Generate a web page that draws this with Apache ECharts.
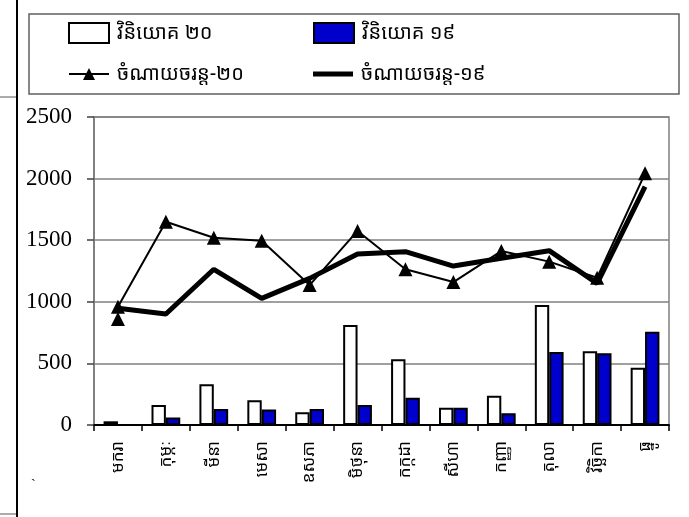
<!DOCTYPE html>
<html>
<head>
<meta charset="utf-8">
<script src="https://cdn.jsdelivr.net/npm/echarts@6/dist/echarts.min.js"></script>
<style>
html,body{margin:0;padding:0;background:#fff;}
#c{width:689px;height:517px;}
</style>
</head>
<body>
<div id="c"></div>
<script>
// ---- data ----
const months = ['មករា','កុម្ភៈ','មីនា','មេសា','ឧសភា','មិថុនា','កក្កដា','សីហា','កញ្ញា','តុលា','វិច្ឆិកា','ធ្នូ'];
const invest20 = [30, 162, 330, 200, 103, 812, 533, 140, 238, 974, 598, 465];
const invest19 = [0, 60, 130, 125, 130, 162, 222, 140, 95, 592, 582, 757];
const spend20 = [960, 1650, 1520, 1496, 1136, 1575, 1264, 1160, 1412, 1326, 1195, 2043];
const spend19 = [947, 901, 1264, 1028, 1190, 1388, 1407, 1290, 1353, 1415, 1150, 1935];
const spend20Extra = [[0, 860]]; // second triangle marker drawn at January
const seriesNames = ['វិនិយោគ ២០','វិនិយោគ ១៩','ចំណាយចរន្ត-២០','ចំណាយចរន្ត-១៩'];
const yTicks = {min: 0, max: 2500, interval: 500};

const KH = "'Noto Sans Khmer','Noto Serif Khmer','Khmer OS','Khmer OS System',sans-serif";
const SERIF = "'Liberation Serif','Times New Roman',serif";

const chart = echarts.init(document.getElementById('c'), null, {renderer: 'canvas'});

function legendAt(item, left, top, h) {
  return {
    data: [item], left: left, top: top, orient: 'horizontal',
    itemWidth: 40, itemHeight: h, itemGap: 0, padding: 0,
    selectedMode: false,
    textStyle: {fontFamily: KH, fontSize: 20, lineHeight: 26, height: 26, color: '#000', padding: [0, 0, 0, 3]}
  };
}

const option = {
  animation: false,
  backgroundColor: '#fff',
  grid: {left: 94, right: 20, top: 117, bottom: 92, show: true, borderColor: '#808080', borderWidth: 1.5, containLabel: false},
  legend: [
    legendAt({name: seriesNames[0], icon: 'rect'}, 68, 20, 20),
    legendAt({name: seriesNames[1], icon: 'rect'}, 313, 20, 20),
    legendAt({name: seriesNames[2]}, 68, 61, 15),
    legendAt({name: seriesNames[3], icon: 'rect'}, 313, 61, 5)
  ],
  xAxis: {
    type: 'category', data: months, boundaryGap: true,
    axisLine: {lineStyle: {color: '#000', width: 2}},
    axisTick: {show: true, alignWithLabel: false, length: 6, lineStyle: {color: '#000', width: 1.5}},
    axisLabel: {rotate: 90, margin: 16, interval: 0, fontFamily: KH, fontSize: 17, color: '#000'},
    splitLine: {show: false}
  },
  yAxis: {
    type: 'value', min: yTicks.min, max: yTicks.max, interval: yTicks.interval,
    axisLine: {show: true, lineStyle: {color: '#808080', width: 2}},
    axisTick: {show: true, inside: false, length: 7, lineStyle: {color: '#404040', width: 1.5}},
    axisLabel: {fontFamily: SERIF, fontSize: 23, color: '#000', margin: 22, formatter: v => String(v)},
    splitLine: {show: true, lineStyle: {color: '#808080', width: 1.5}}
  },
  series: [
    {name: seriesNames[0], type: 'bar', data: invest20, barGap: '0%', barCategoryGap: '40%',
     itemStyle: {color: '#ffffff', borderColor: '#000', borderWidth: 2}, z: 2},
    {name: seriesNames[1], type: 'bar', data: invest19, barGap: '0%', barCategoryGap: '40%',
     itemStyle: {color: '#0000cc', borderColor: '#000', borderWidth: 2}, z: 2},
    {name: seriesNames[2], type: 'line', data: spend20, symbol: 'triangle', symbolSize: 14, showSymbol: true,
     lineStyle: {color: '#000', width: 2}, itemStyle: {color: '#000'}, z: 4,
     markPoint: {symbol: 'triangle', symbolSize: 14, itemStyle: {color: '#000'}, label: {show: false},
       data: spend20Extra.map(p => ({coord: [p[0], p[1]]}))}},
    {name: seriesNames[3], type: 'line', data: spend19, symbol: 'none', showSymbol: false,
     lineStyle: {color: '#000', width: 5}, itemStyle: {color: '#000'}, z: 3}
  ],
  graphic: [
    {type: 'rect', shape: {x: 29, y: 14, width: 650, height: 80}, style: {fill: 'none', stroke: '#606060', lineWidth: 1.5}, z: -1},
    {type: 'line', shape: {x1: 17, y1: 0, x2: 17, y2: 517}, style: {stroke: '#000', lineWidth: 2}},
    {type: 'line', shape: {x1: 0, y1: 97, x2: 16, y2: 97}, style: {stroke: '#909090', lineWidth: 1.5}},
    {type: 'line', shape: {x1: 0, y1: 514, x2: 16, y2: 514}, style: {stroke: '#909090', lineWidth: 1.5}},
    {type: 'text', left: 31, top: 478, style: {text: '`', font: "14px " + SERIF, fill: '#000'}}
  ]
};
chart.setOption(option);
</script>
</body>
</html>
